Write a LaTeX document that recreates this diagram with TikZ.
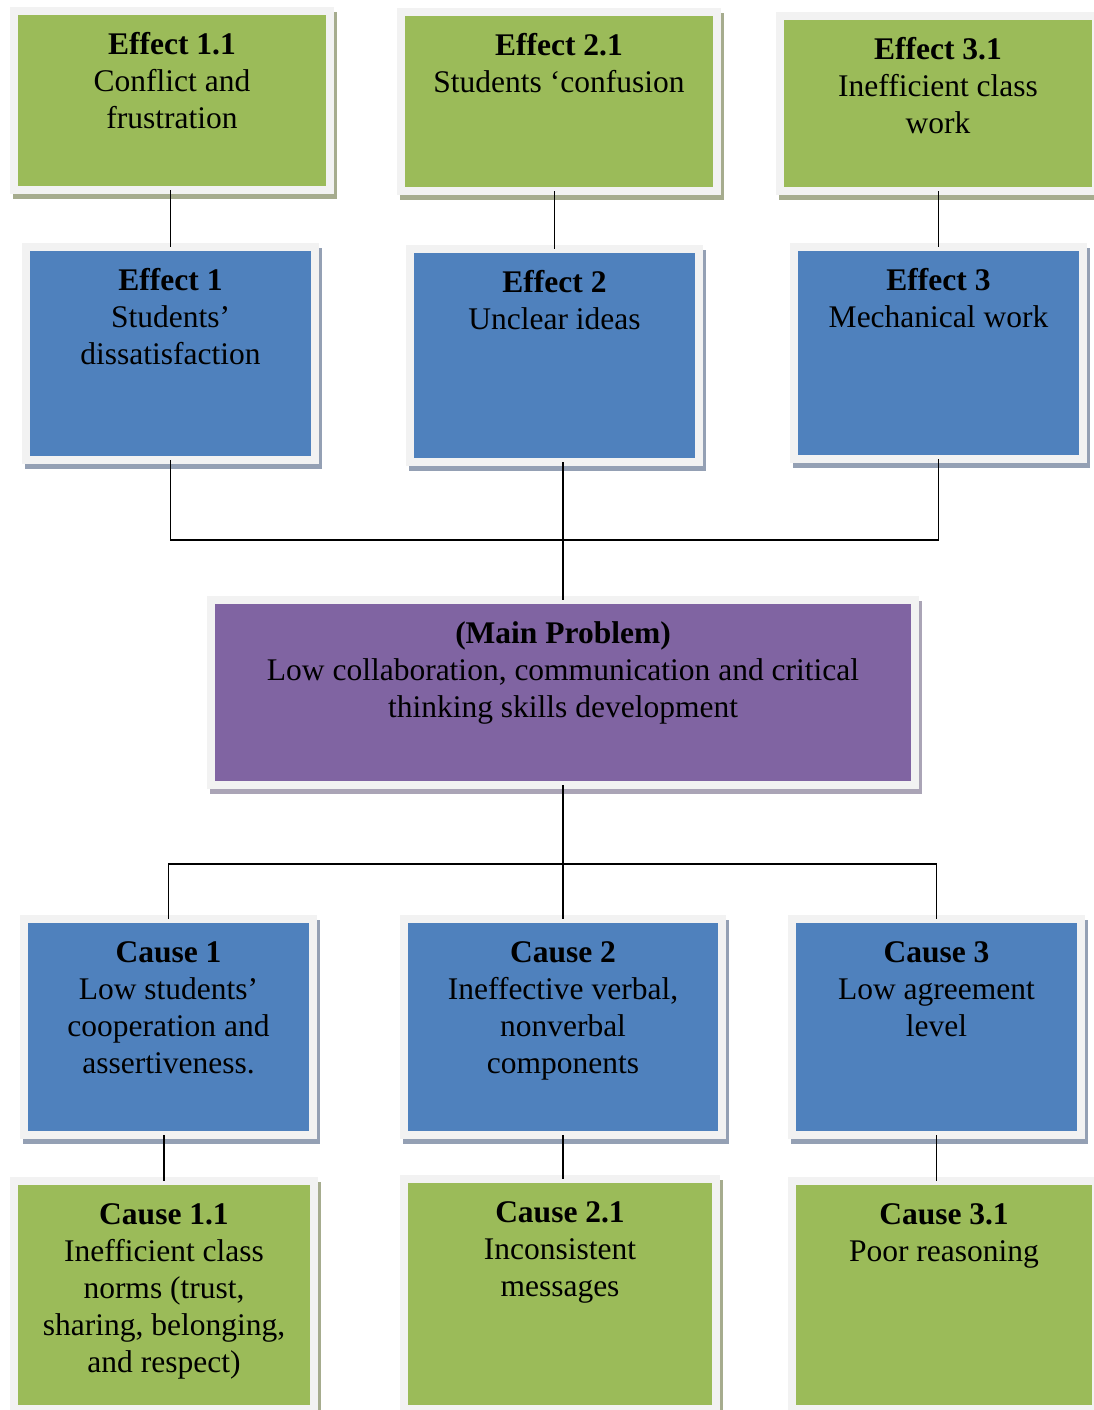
\documentclass[tikz,border=0pt]{standalone}
\usepackage{fontspec}
\setmainfont{Liberation Serif}
\usetikzlibrary{shadows}
\definecolor{frameC}{RGB}{242,242,242}
\definecolor{greenC}{RGB}{155,187,89}
\definecolor{blueC}{RGB}{79,129,189}
\definecolor{purpleC}{RGB}{128,100,162}
\definecolor{shadowG}{RGB}{166,172,142}
\definecolor{shadowB}{RGB}{148,160,180}
\definecolor{shadowP}{RGB}{170,164,182}
\tikzset{
  box/.style={rectangle, draw=frameC, line width=8pt, outer sep=0pt, inner sep=0pt},
  greenbox/.style={box, fill=greenC,
    general shadow={shadow xshift=3pt, shadow yshift=-5pt, fill=shadowG, draw=shadowG, line width=8pt}},
  bluebox/.style={box, fill=blueC,
    general shadow={shadow xshift=3pt, shadow yshift=-5pt, fill=shadowB, draw=shadowB, line width=8pt}},
  purplebox/.style={box, fill=purpleC,
    general shadow={shadow xshift=3pt, shadow yshift=-5pt, fill=shadowP, draw=shadowP, line width=8pt}},
  label/.style={anchor=north, inner sep=0pt, align=center,
    font=\fontsize{31.5}{37}\selectfont},
  link/.style={draw=black, line width=1.8pt}
}
\newcommand{\firstline}[1]{\rule{0pt}{25pt}\textbf{#1}}
\begin{document}
\begin{tikzpicture}[x=1pt, y=-1pt]
\useasboundingbox (0,0) rectangle (1094,1410);
\clip (0,0) rectangle (1094,1410);

% effect level 2
\node[greenbox, minimum width=316pt, minimum height=179pt] (e11) at (172,100.5) {};
\node[greenbox, minimum width=316pt, minimum height=179pt] (e21) at (559,101.5) {};
\node[greenbox, minimum width=316pt, minimum height=175pt] (e31) at (938,103.5) {};
% effect level 1
\node[bluebox, minimum width=289pt, minimum height=213pt] (e1) at (170.5,353.5) {};
\node[bluebox, minimum width=289pt, minimum height=213pt] (e2) at (554.5,355.5) {};
\node[bluebox, minimum width=289pt, minimum height=212pt] (e3) at (938.5,353) {};
% main problem
\node[purplebox, minimum width=704pt, minimum height=185pt] (main) at (563,692.5) {};
% causes
\node[bluebox, minimum width=289pt, minimum height=216pt] (c1) at (168.5,1027) {};
\node[bluebox, minimum width=318pt, minimum height=216pt] (c2) at (563,1027) {};
\node[bluebox, minimum width=289pt, minimum height=216pt] (c3) at (936.5,1027) {};
% sub-causes
\node[greenbox, minimum width=300pt, minimum height=228pt] (c11) at (164,1295) {};
\node[greenbox, minimum width=312pt, minimum height=230pt] (c21) at (560,1294) {};
\node[greenbox, minimum width=304pt, minimum height=228pt] (c31) at (944,1295) {};

% texts
\node[label] (e11t) at ([yshift=-18pt]e11.north) {\firstline{Effect 1.1}\\Conflict and\\frustration};
\node[label] (e21t) at ([yshift=-18pt]e21.north) {\firstline{Effect 2.1}\\Students ‘confusion};
\node[label] (e31t) at ([yshift=-18pt]e31.north) {\firstline{Effect 3.1}\\Inefficient class\\work};
\node[label] (e1t) at ([yshift=-18pt]e1.north) {\firstline{Effect 1}\\Students’\\dissatisfaction};
\node[label] (e2t) at ([yshift=-18pt]e2.north) {\firstline{Effect 2}\\Unclear ideas};
\node[label] (e3t) at ([yshift=-18pt]e3.north) {\firstline{Effect 3}\\Mechanical work};
\node[label] (maint) at ([yshift=-18pt]main.north) {\firstline{(Main Problem)}\\Low collaboration, communication and critical\\thinking skills development};
\node[label] (c1t) at ([yshift=-18pt]c1.north) {\firstline{Cause 1}\\Low students’\\cooperation and\\assertiveness.};
\node[label] (c2t) at ([yshift=-18pt]c2.north) {\firstline{Cause 2}\\Ineffective verbal,\\nonverbal\\components};
\node[label] (c3t) at ([yshift=-18pt]c3.north) {\firstline{Cause 3}\\Low agreement\\level};
\node[label] (c11t) at ([yshift=-18pt]c11.north) {\firstline{Cause 1.1}\\Inefficient class\\norms (trust,\\sharing, belonging,\\and respect)};
\node[label] (c21t) at ([yshift=-18pt]c21.north) {\firstline{Cause 2.1}\\Inconsistent\\messages};
\node[label] (c31t) at ([yshift=-18pt]c31.north) {\firstline{Cause 3.1}\\Poor reasoning};

% connectors between effects
\draw[link] (e1.north |- e11.south) -- (e1.north);
\draw[link] (e2.north |- e21.south) -- (e2.north);
\draw[link] (e3.north |- e31.south) -- (e3.north);
\coordinate (busE) at (563,540);
\draw[link] (e1.south) |- (busE) -| (e3.south);
\draw[link] (main.north |- e2.south) -- (main.north);
% connectors towards causes
\coordinate (busC) at (563,864);
\draw[link] (main.south) -- (c2.north);
\draw[link] (c1.north) |- (busC) -| (c3.north);
\draw[link] (c11.north |- c1.south) -- (c11.north);
\draw[link] (c2.south) -- (c2.south |- c21.north);
\draw[link] (c3.south) -- (c3.south |- c31.north);
\end{tikzpicture}
\end{document}
